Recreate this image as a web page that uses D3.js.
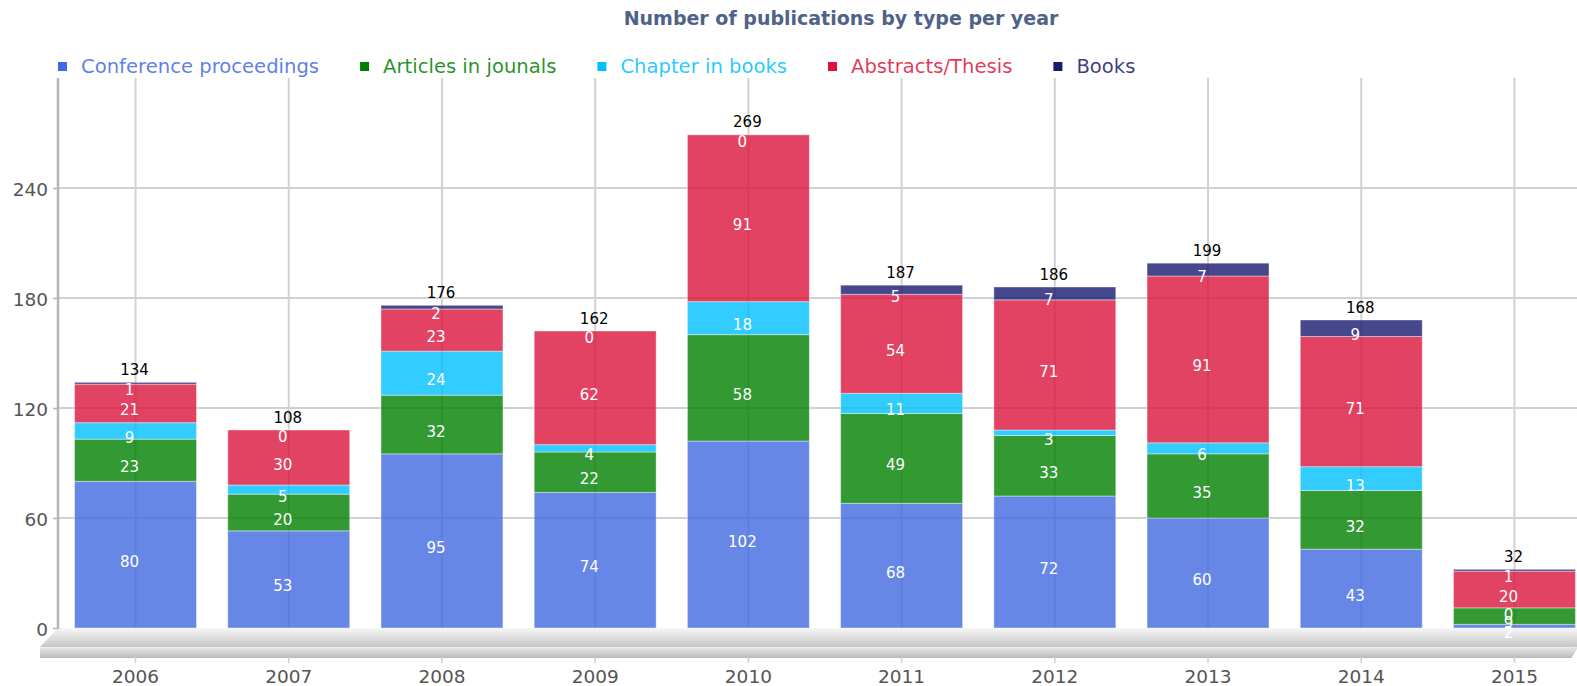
<!DOCTYPE html>
<html>
<head>
<meta charset="utf-8">
<script src="https://cdn.jsdelivr.net/npm/d3@7"></script>
<style>
body{margin:0;background:#fff}
svg{display:block;font-family:"DejaVu Sans",Verdana,sans-serif}
</style>
</head>
<body>
<svg id="chart" width="1577" height="686"></svg>
<script>
// data
var years = ["2006","2007","2008","2009","2010","2011","2012","2013","2014","2015"]
var conference = [80,53,95,74,102,68,72,60,43,2]
var articles = [23,20,32,22,58,49,33,35,32,9]
var chapters = [9,5,24,4,18,11,3,6,13,0]
var abstracts = [21,30,23,62,91,54,71,91,71,20]
var books = [1,0,2,0,0,5,7,7,9,1]
var seriesNames = ["Conference proceedings","Articles in jounals","Chapter in books","Abstracts/Thesis","Books"]
var seriesColors = ["#4169E1","#008000","#00BFFF","#DC143C","#191970"]
var yTicks = [0,60,120,180,240]

var svg = d3.select("#chart")
var plot = {left:58, top:78, bottom:628, right:1577}

var series = [conference,articles,chapters,abstracts,books]
var keys = series.map((s,i)=>"s"+i)
var rows = years.map((yr,i)=>{
    var r = {year:yr}
    series.forEach((s,k)=>r["s"+k]=s[i])
    return r
})
var stacked = d3.stack().keys(keys)(rows)

var x = d3.scaleBand().domain(years).range([58,1592]).paddingInner(0.204).paddingOuter(0.108)
var y = d3.scaleLinear().domain([0,300]).range([plot.bottom,plot.top])
var cx = d=>x(d)+x.bandwidth()/2

// gradients for the floor
var defs = svg.append("defs")
var g1 = defs.append("linearGradient").attr("id","floorTop").attr("x1",0).attr("y1",0).attr("x2",0).attr("y2",1)
g1.append("stop").attr("offset","0%").attr("stop-color","#f7f7f7")
g1.append("stop").attr("offset","55%").attr("stop-color","#dcdcdc")
g1.append("stop").attr("offset","100%").attr("stop-color","#c6c6c6")
var g2 = defs.append("linearGradient").attr("id","floorFront").attr("x1",0).attr("y1",0).attr("x2",0).attr("y2",1)
g2.append("stop").attr("offset","0%").attr("stop-color","#e8e8e8")
g2.append("stop").attr("offset","100%").attr("stop-color","#bfbfbf")

// grid
svg.append("g").selectAll("line").data(yTicks.filter(d=>d>0)).join("line")
    .attr("x1",plot.left).attr("x2",plot.right).attr("y1",d=>y(d)).attr("y2",d=>y(d))
    .attr("stroke","#c2c2c2").attr("stroke-width",1.5)
svg.append("g").selectAll("line").data(years).join("line")
    .attr("x1",d=>cx(d)).attr("x2",d=>cx(d)).attr("y1",plot.top).attr("y2",plot.bottom)
    .attr("stroke","#d2d2d2").attr("stroke-width",2)

// stacked bars
svg.append("g").selectAll("g").data(stacked).join("g")
    .attr("fill",(d,i)=>seriesColors[i]).attr("fill-opacity",0.8)
    .selectAll("rect").data(d=>d).join("rect")
    .attr("x",d=>x(d.data.year)).attr("width",x.bandwidth())
    .attr("y",d=>y(d[1])).attr("height",d=>y(d[0])-y(d[1]))
    .attr("stroke","#fff").attr("stroke-opacity",0.4).attr("stroke-width",1)

// floor
var floor = svg.append("g")
floor.append("path").attr("d",d3.line()([[plot.left,plot.bottom],[1577,plot.bottom],[1577,647],[40,647]]))
    .attr("fill","url(#floorTop)")
floor.append("path").attr("d",d3.line()([[40,647],[1577,647],[1577,649],[1572,657],[40,657]]))
    .attr("fill","url(#floorFront)")
floor.append("line").attr("x1",40).attr("x2",1574).attr("y1",647.5).attr("y2",647.5).attr("stroke","#efefef")
floor.append("line").attr("x1",40).attr("x2",1572).attr("y1",657.5).attr("y2",657.5).attr("stroke","#b8b8b8")

// y axis
var yAxis = svg.append("g").attr("transform","translate("+plot.left+",0)")
    .call(d3.axisLeft(y).tickValues(yTicks).tickSize(5).tickPadding(5))
yAxis.select(".domain").remove()
yAxis.selectAll("line").attr("stroke","#b4b4b4").attr("stroke-width",1.5)
yAxis.selectAll("text").attr("font-size",18.5).attr("fill","#555").attr("dy","0.43em").attr("font-family","DejaVu Sans")
yAxis.append("line").attr("x1",0).attr("x2",0).attr("y1",plot.top).attr("y2",plot.bottom+1).attr("stroke","#b4b4b4").attr("stroke-width",2.5)

// x axis
var xAxis = svg.append("g").attr("transform","translate(0,657)")
    .call(d3.axisBottom(x).tickSize(6).tickPadding(7))
xAxis.select(".domain").remove()
xAxis.selectAll("line").attr("stroke","#cfcfcf").attr("stroke-width",1.5)
xAxis.selectAll("text").attr("font-size",18.5).attr("fill","#555").attr("font-family","DejaVu Sans")

// segment labels
svg.append("g").selectAll("g").data(stacked).join("g")
    .selectAll("text").data(d=>d).join("text")
    .attr("x",d=>cx(d.data.year)-6).attr("y",d=>(y(d[0])+y(d[1]))/2+12)
    .attr("text-anchor","middle").attr("font-size",15).attr("fill","#fff")
    .text(d=>d[1]-d[0])

// totals
svg.append("g").selectAll("text").data(rows).join("text")
    .attr("x",d=>cx(d.year)-1).attr("y",d=>y(d3.sum(keys,k=>d[k]))-7.5)
    .attr("text-anchor","middle").attr("font-size",15).attr("fill","#000")
    .text(d=>d3.sum(keys,k=>d[k]))

// title
svg.append("text").attr("x",841).attr("y",25).attr("text-anchor","middle")
    .attr("font-size",19).attr("font-weight","bold").attr("fill","#4f6289")
    .text("Number of publications by type per year")

// legend
var legend = svg.append("g")
var lx = 58
seriesNames.forEach((name,i)=>{
    legend.append("rect").attr("x",lx).attr("y",62).attr("width",9).attr("height",9).attr("fill",seriesColors[i])
    var t = legend.append("text").attr("x",lx+23).attr("y",73).attr("font-size",19.6)
        .attr("fill",seriesColors[i]).attr("fill-opacity",0.85).text(name)
    lx = lx+23+t.node().getComputedTextLength()+41
})
</script>
</body>
</html>
